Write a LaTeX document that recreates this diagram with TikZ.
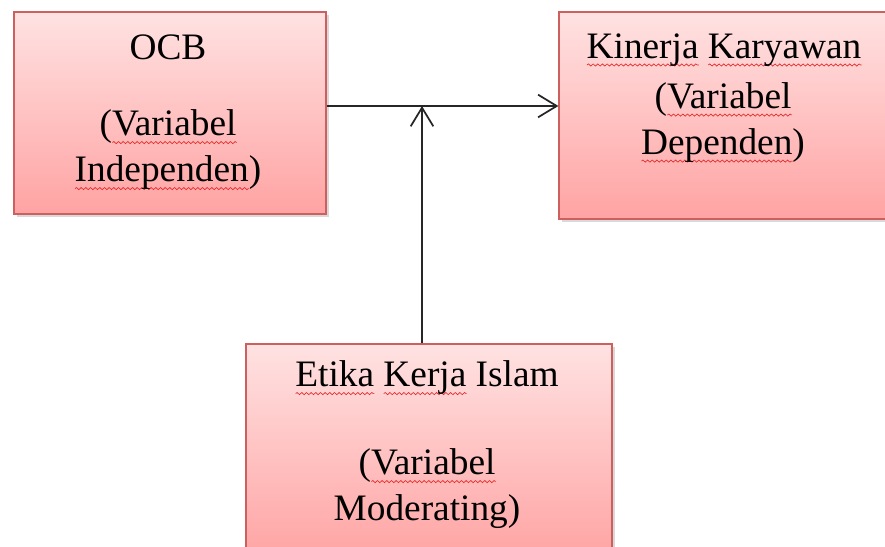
\documentclass[tikz,border=0pt]{standalone}
\usepackage{fontspec}
\setmainfont{Liberation Serif}
\usepackage{tikz}
\usetikzlibrary{arrows.meta,shadows,calc,decorations.pathmorphing}

\definecolor{boxtop}{RGB}{255,226,226}
\definecolor{boxbottom}{RGB}{255,163,163}
\definecolor{boxline}{RGB}{205,95,95}
\definecolor{squig}{RGB}{230,40,40}

\newsavebox\spellbox
\newcommand\spell[1]{\sbox\spellbox{#1}\rlap{\tikz[baseline=0pt,x=1pt,y=1pt]
  \draw[squig,line width=.5pt,decorate,decoration={snake,amplitude=.8pt,segment length=3.5pt}]
  (0pt,-5pt) -- (\wd\spellbox,-5pt);}\usebox\spellbox}

\begin{document}
\begin{tikzpicture}
[x=0.75pt,y=-0.75pt,
varbox/.style={draw=boxline,line width=.9pt,top color=boxtop,bottom color=boxbottom,
  drop shadow={opacity=.3,shadow xshift=2pt,shadow yshift=-2.5pt},inner sep=0pt},
vartext/.style={align=center,inner sep=0pt,font=\fontsize{28}{34.5}\selectfont},
link/.style={line width=1.3pt,black!85,-{Straight Barb[length=14pt,width=17pt,line width=1.3pt]}}]
\useasboundingbox (0,0) rectangle (885,546);
\clip (0,0) rectangle (885,546);
% boxes
\node[varbox,minimum width=234pt,minimum height=151.5pt] (ocb) at (170,113) {};
\node[varbox,minimum width=255.75pt,minimum height=155.25pt] (kinerja) at (729.5,115.5) {};
\node[varbox,minimum width=274.5pt,minimum height=162pt] (etika) at (429,452) {};
% texts
\node[vartext] (ocbname) at (168,47) {OCB};
\node[vartext] (ocbvar) at (168,150) {(\spell{Variabel}\\\spell{Independen})};
\node[vartext] (kinerjaname) at (724,50) {\spell{Kinerja} \spell{Karyawan}};
\node[vartext] (kinerjavar) at (723,122.5) {(\spell{Variabel}\\\spell{Dependen})};
\node[vartext] (etikaname) at (427,378) {\spell{Etika} \spell{Kerja} Islam};
\node[vartext] (etikavar) at (427,489) {(\spell{Variabel}\\Moderating)};
% arrows
\coordinate (join) at (422,106);
\draw[link] (ocb.east |- join) -- (kinerja.west |- join);
\draw[link] (etika.north -| join) -- (join);
\end{tikzpicture}
\end{document}
